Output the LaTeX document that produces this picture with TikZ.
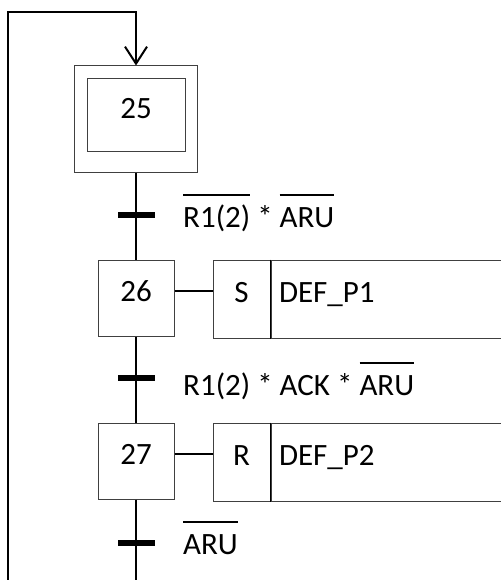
\documentclass[tikz,border=0pt]{standalone}
\usepackage{fontspec}
\setmainfont{Carlito}
\usetikzlibrary{arrows.meta}

% negated signal: text with a bar above it
\newsavebox\negbox
\newcommand{\negsig}[1]{\sbox\negbox{#1}\rlap{\rule[1.0em]{\wd\negbox}{2pt}}\usebox\negbox}

\begin{document}
\begin{tikzpicture}[x=1pt, y=-1pt, font=\fontsize{31}{37}\selectfont,
    >={Straight Barb[length=17pt, width=22pt]},
    etape/.style={draw=black!75, line width=1pt, inner sep=0pt, minimum width=76pt, minimum height=76pt,
      text height=20pt, text depth=14pt},
    franchi/.style={fill=black, minimum width=37pt, minimum height=6pt, inner sep=0pt},
    qualif/.style={draw=black!75, line width=1pt, minimum width=57pt, minimum height=78pt, inner sep=0pt,
      text height=20pt, text depth=14pt},
    action/.style={draw=black!75, line width=1pt, minimum height=78pt, text width=220pt, inner sep=8pt,
      align=left, text height=20pt, text depth=14pt},
    recept/.style={anchor=base west, inner sep=0pt},
    liaison/.style={line width=1.3pt}]
  \useasboundingbox (0,0) rectangle (500,580);
  % ---------------- initial step ----------------
  \node[etape, minimum width=123pt, minimum height=106pt] (s25o) at (136,119) {};
  \node[etape, minimum width=98pt, minimum height=73pt] (s25) at (136,115.5) {25};
  % ---------------- steps with their actions ----------------
  \foreach \n/\y/\q/\act in {26/298/S/{DEF\_P1}, 27/461/R/{DEF\_P2}} {
    \node[etape] (s\n) at (136,\y) {\n};
    \node[qualif] (q\n) at (241.5,\y+1) {\q};
    \node[action, anchor=west] (a\n) at (q\n.east) {\act};
    \draw[liaison] (q\n.north east) -- (q\n.south east);
    \draw[liaison] ([yshift=7pt]s\n.east) -- ([yshift=7pt]s\n.east -| q\n.west);
  }
  % ---------------- transitions ----------------
  \node[franchi] (t1) at (136,215) {};
  \node[franchi] (t2) at (136,378) {};
  \node[franchi] (t3) at (136,543) {};
  \node[recept] (r1) at (183,227) {\negsig{R1(2)} * \negsig{ARU}};
  \node[recept] (r2) at (183,395) {R1(2) * ACK * \negsig{ARU}};
  \node[recept] (r3) at (183,554) {\negsig{ARU}};
  % links
  \coordinate (fin) at (136,585);
  \draw[liaison] (s25o) -- (t1) -- (s26);
  \draw[liaison] (s26) -- (t2) -- (s27);
  \draw[liaison] (s27) -- (t3) -- (fin);
  % loop back to the initial step
  \coordinate (bas) at (8,585);
  \coordinate (haut) at (8,12);
  \draw[line width=2pt, ->] (bas) -- (haut) -| (s25o.north);
\end{tikzpicture}
\end{document}
